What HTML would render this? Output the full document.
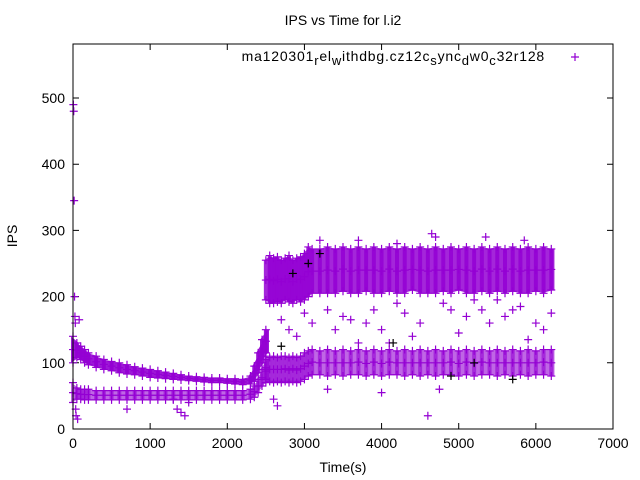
<!DOCTYPE html>
<html><head><meta charset="utf-8"><style>
body{margin:0;background:#fff;}
svg{display:block;font-family:"Liberation Sans",sans-serif;}
</style></head><body>
<svg id="chart" width="640" height="480">
<rect x="0" y="0" width="640" height="480" fill="#fff"/>
<text x="343" y="25" font-size="14" text-anchor="middle">IPS vs Time for l.i2</text>
<text x="343" y="472" font-size="14" text-anchor="middle">Time(s)</text>
<text transform="translate(17,236) rotate(-90)" font-size="14" text-anchor="middle">IPS</text>
<g id="ticks"></g>
<g id="marks"></g>
<rect x="73" y="44" width="540" height="385" fill="none" stroke="#000" stroke-width="1"/>
<g>
<text x="545" y="61" font-size="14" letter-spacing="0.8" text-anchor="end">ma120301<tspan font-size="13" dy="4">r</tspan><tspan dy="-4">el</tspan><tspan font-size="13" dy="4">w</tspan><tspan dy="-4">ithdbg.cz12c</tspan><tspan font-size="13" dy="4">s</tspan><tspan dy="-4">ync</tspan><tspan font-size="13" dy="4">d</tspan><tspan dy="-4">w0</tspan><tspan font-size="13" dy="4">c</tspan><tspan dy="-4">32r128</tspan></text>
<path d="M571 57h8M575 53v8" stroke="#9400d3" stroke-width="1.2"/>
</g>
</svg>
<script>
const xTicks=[0,1000,2000,3000,4000,5000,6000,7000];
const yTicks=[0,100,200,300,400,500];
// dense band buckets
const bandT=[0,50,100,150,200,300,400,500,600,700,800,900,1000,1100,1200,1300,1400,1500,1600,1700,1800,1900,2000,2100,2200,2300,2350,2400,2450,2500];
const upperMin=[100,108,105,100,97,93,90,88,85,83,82,80,78,77,76,75,74,73,72,71,70,70,69,68,67,68,72,85,100,115];
const upperMax=[140,130,125,120,115,110,105,102,100,97,94,92,90,88,86,84,82,80,79,78,77,77,76,76,75,80,95,115,135,150];
const lowerMin=[40,45,45,44,44,44,44,44,44,44,44,44,44,44,44,44,44,44,44,44,44,44,44,44,44,45,48,55,65,70];
const lowerMax=[70,62,60,60,60,58,58,58,58,58,58,58,58,58,58,58,58,58,58,58,58,58,58,58,58,60,65,75,90,105];
const band2T=[2500,2550,2600,2650,2700,2750,2800,2850,2900,2950,3000,3050,3100,3200,3300,3400,3500,3600,3700,3800,3900,4000,4100,4200,4300,4400,4500,4600,4700,4800,4900,5000,5100,5200,5300,5400,5500,5600,5700,5800,5900,6000,6100,6200];
const hiMin=[195,190,190,192,190,195,192,190,195,192,195,200,205,205,205,205,208,205,205,208,205,205,208,205,205,210,205,205,205,208,205,210,205,205,208,205,208,205,208,205,205,208,205,210];
const hiMax=[255,262,258,260,255,258,262,255,258,260,265,275,272,272,275,272,275,272,275,272,275,272,275,272,275,272,275,272,275,272,275,272,275,272,275,272,275,272,275,272,275,272,275,272];
const loMin=[75,72,70,72,70,72,70,72,70,72,75,80,82,82,80,82,80,82,82,80,82,80,82,82,80,82,80,82,80,82,82,80,82,80,82,82,80,82,80,82,80,82,82,80];
const loMax=[110,108,110,108,110,110,108,110,108,110,115,118,120,118,120,118,120,118,120,118,120,118,120,118,120,118,120,118,120,118,120,118,120,118,120,118,120,118,120,118,120,118,120,120];
// scattered outliers
const outT=[5,10,15,20,25,30,35,40,60,80,700,1300,1350,1400,1450,1500,2600,2650,2700,2800,2900,3000,3100,3300,3400,3500,3600,3700,3800,3900,4000,4100,4200,4300,4400,4500,4600,4700,4800,4900,5000,5100,5200,5300,5400,5500,5600,5700,5800,5900,6000,6100,6200,3200,3700,4200,4650,5350,5850,4750,4000,3300];
const outV=[490,480,345,200,170,160,30,20,15,165,30,45,30,25,20,40,45,35,165,150,140,175,160,180,150,170,165,130,160,180,150,130,190,175,140,160,20,290,190,180,145,170,195,180,160,195,170,180,185,135,160,150,175,285,285,280,295,290,285,60,55,60];
const blackT=[2850,3050,3200,2700,4150,4900,5700,5200];
const blackV=[235,250,265,125,130,80,75,100];

const X=t=>73+t*540/7000, Y=v=>429-v*0.662;
const NS="http://www.w3.org/2000/svg";
const marks=document.getElementById('marks'), ticks=document.getElementById('ticks');
function mk(tag,attrs,parent){const e=document.createElementNS(NS,tag);for(const k in attrs)e.setAttribute(k,attrs[k]);parent.appendChild(e);return e;}
xTicks.forEach(t=>{
  const l=mk('path',{d:`M${X(t)} 429v-6M${X(t)} 44v6`,stroke:'#000'},ticks);
  
  
  const tx=mk('text',{x:X(t),y:448,'font-size':14,'text-anchor':'middle'},ticks);tx.textContent=t;
  
  
});
yTicks.forEach(v=>{
  const l=mk('path',{d:`M73 ${Y(v)}h6M613 ${Y(v)}h-6`,stroke:'#000'},ticks);
  
  
  const tx=mk('text',{x:65,y:Y(v)+5,'font-size':14,'text-anchor':'end'},ticks);tx.textContent=v;
  
  
});
const C='#9400d3';
function cross(t,v,col,name){
  const p=mk('path',{d:`M${X(t)-4} ${Y(v)}h8M${X(t)} ${Y(v)-4}v8`,stroke:col,'stroke-width':1.2},marks);
  
  
}
function band(T,mins,maxs,name,w){
  T.forEach((t,i)=>{
    const t2=i<T.length-1?T[i+1]:t+15;
    const x1=X(t)-2, x2=X(t2)+2;
    const r=mk('path',{d:`M${x1} ${Y(maxs[i])}L${x2} ${Y(i<T.length-1?maxs[i+1]:maxs[i])}L${x2} ${Y(i<T.length-1?mins[i+1]:mins[i])}L${x1} ${Y(mins[i])}Z`,fill:C,'fill-opacity':w},marks);
    
    
    cross(t,maxs[i],C,name+'-point');
    cross(t,mins[i],C,name+'-point');
    cross(t,(mins[i]+maxs[i])/2,C,name+'-point');
  });
}
band(bandT,upperMin,upperMax,'early-upper-band',0.9);
band(bandT,lowerMin,lowerMax,'early-lower-band',0.6);
band(band2T,hiMin,hiMax,'high-band',0.85);
band(band2T,loMin,loMax,'low-band',0.6);
outT.forEach((t,i)=>cross(t,outV[i],C,'outlier-point'));
blackT.forEach((t,i)=>cross(t,blackV[i],'#000','dark-point'));
</script>
</body></html>
